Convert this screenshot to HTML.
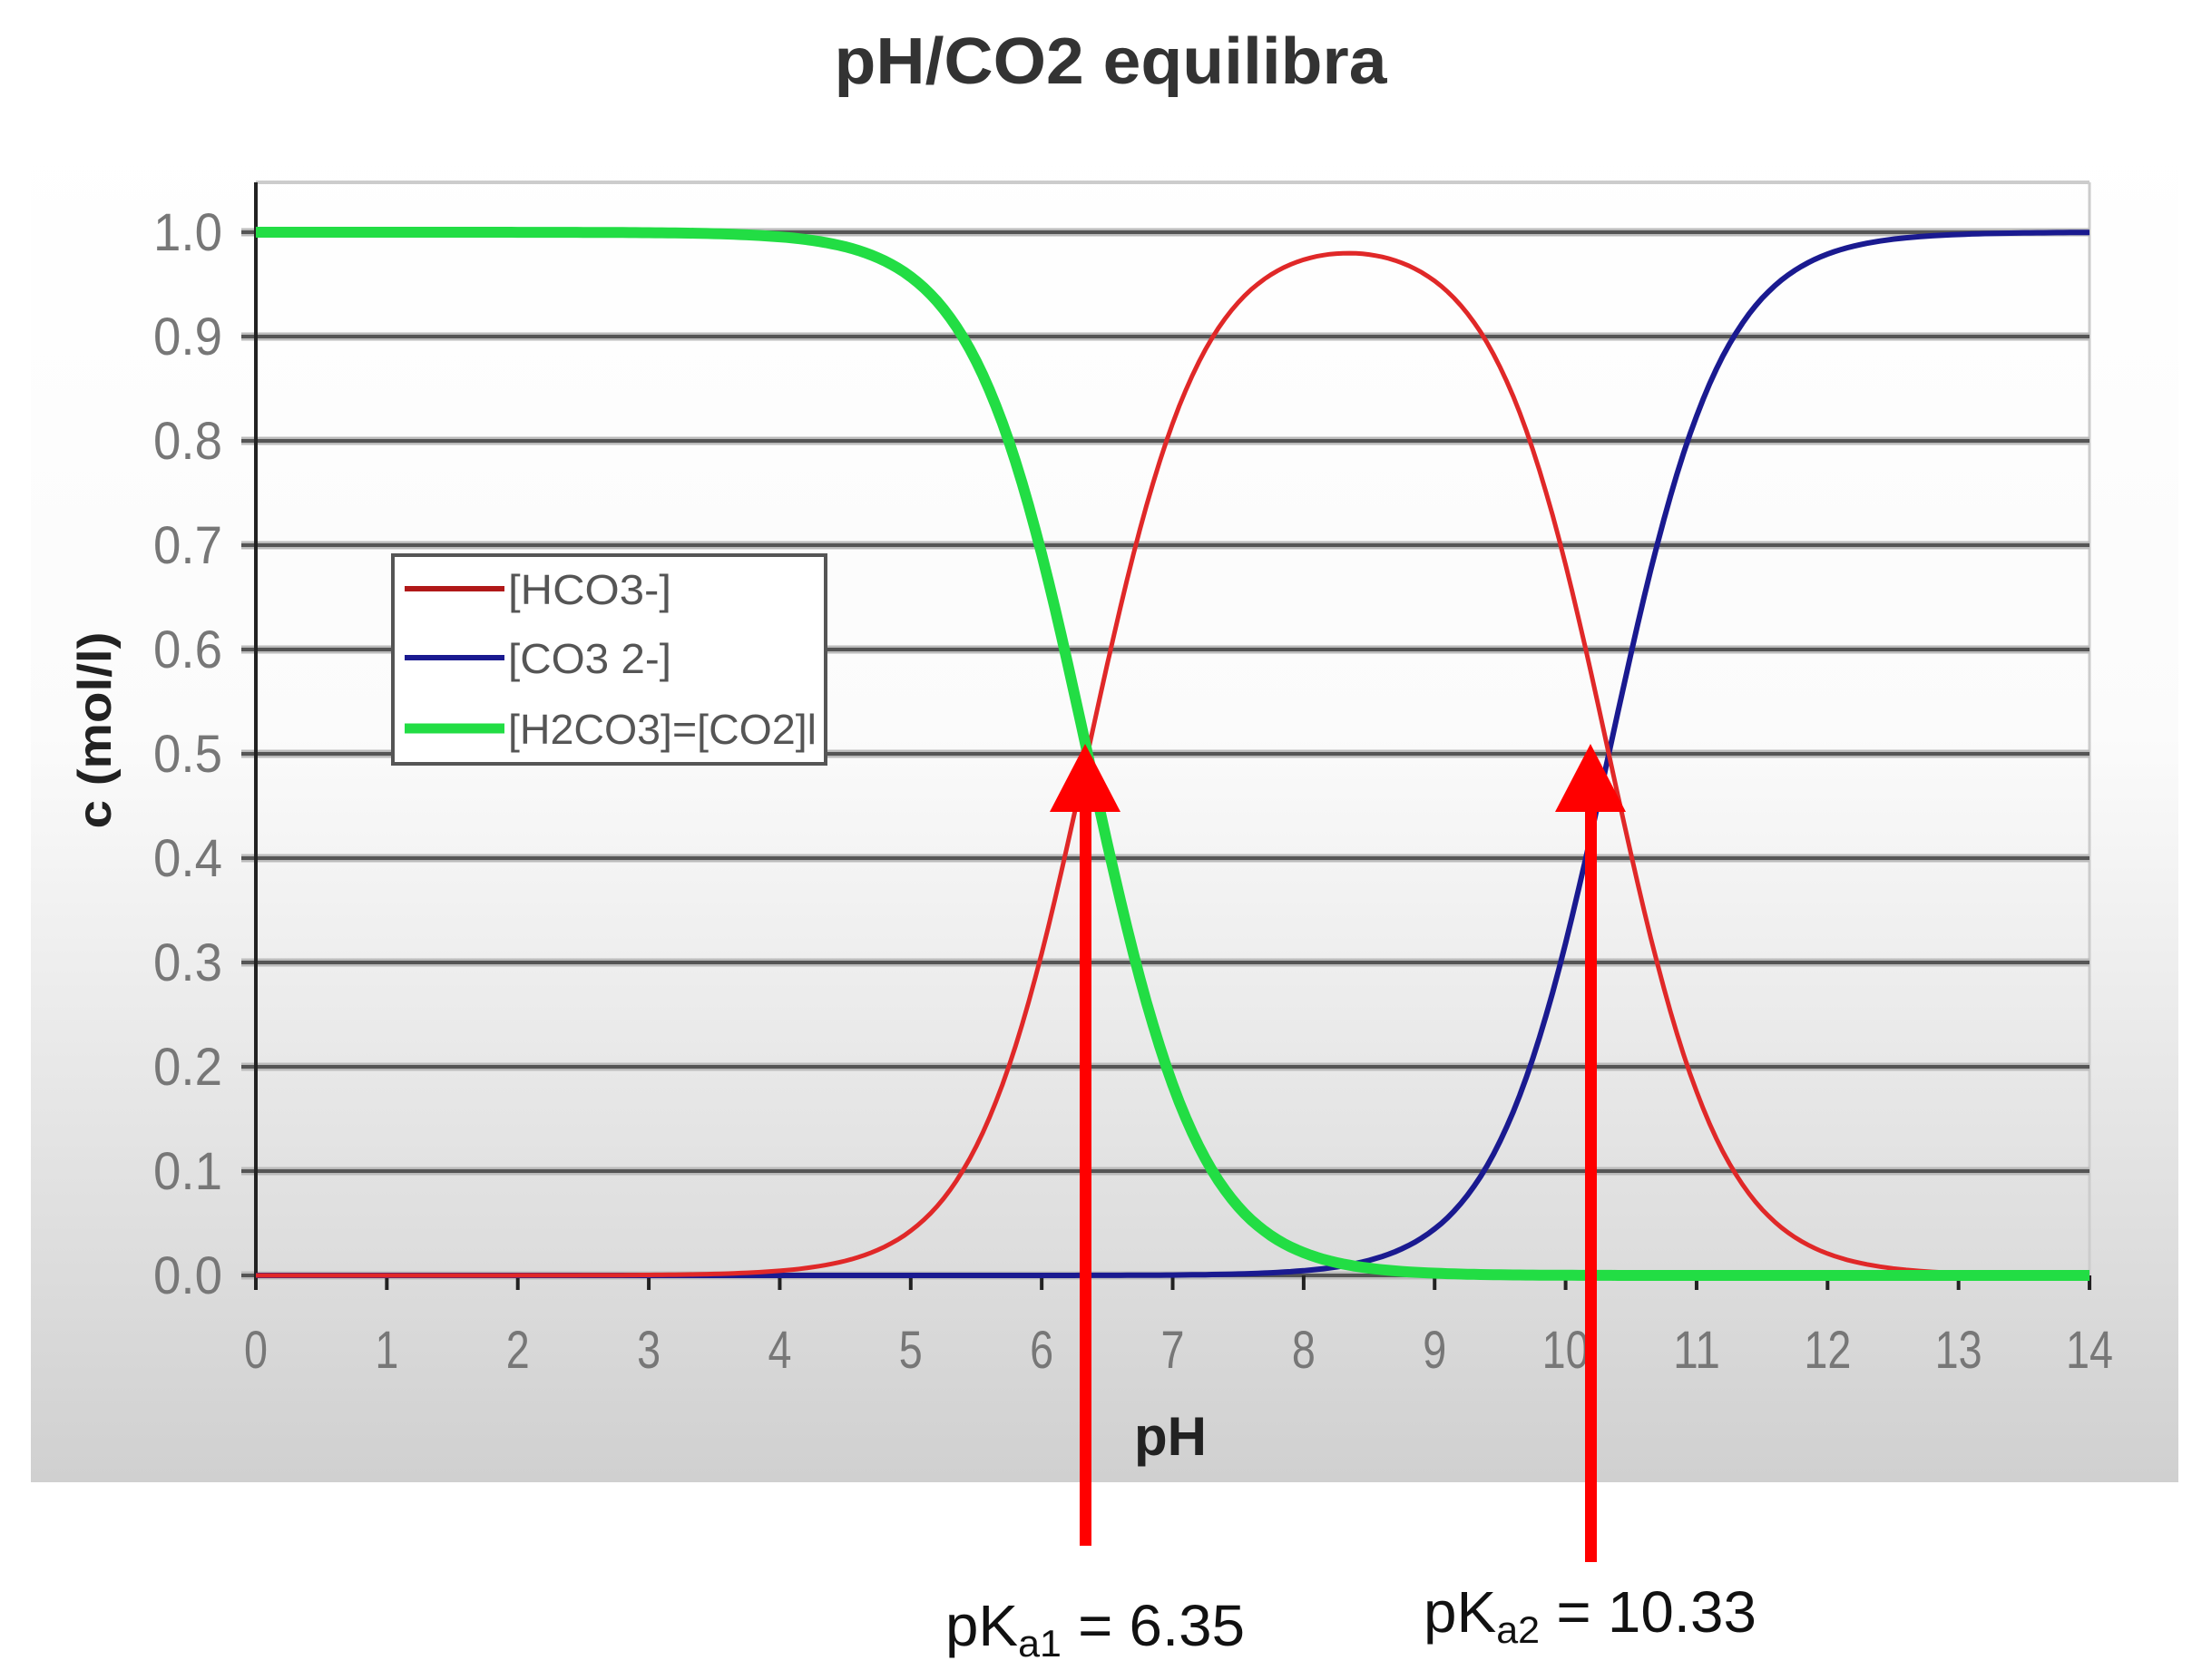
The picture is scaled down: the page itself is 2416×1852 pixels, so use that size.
<!DOCTYPE html>
<html><head><meta charset="utf-8"><style>
html,body{margin:0;padding:0;background:#fff}
svg{display:block}
</style></head><body>
<svg id="s" width="2416" height="1852" viewBox="0 0 2416 1852" xmlns="http://www.w3.org/2000/svg">
<defs>
<linearGradient id="bg" x1="0" y1="0" x2="0" y2="1">
<stop offset="0" stop-color="#ffffff"/>
<stop offset="0.45" stop-color="#fbfbfb"/>
<stop offset="1" stop-color="#d0d0d0"/>
</linearGradient>
</defs>
<rect x="34" y="140" width="2367" height="1494" fill="url(#bg)"/>
<text x="1224" y="92" font-family="Liberation Sans, sans-serif" font-size="72" font-weight="bold" text-anchor="middle" fill="#333" textLength="609" lengthAdjust="spacingAndGlyphs">pH/CO2 equilibra</text>
<line x1="282" y1="201" x2="2303" y2="201" stroke="#ccc" stroke-width="4"/>
<line x1="2303" y1="201" x2="2303" y2="1406" stroke="#ccc" stroke-width="3"/>
<g id="grid"></g>
<line x1="282" y1="201" x2="282" y2="1420" stroke="#222" stroke-width="4"/>
<g id="curves"></g>
<rect x="433" y="612" width="477" height="230" fill="#fff" stroke="#555" stroke-width="4"/>
<line x1="446" y1="649" x2="556" y2="649" stroke="#b01818" stroke-width="6"/>
<line x1="446" y1="725" x2="556" y2="725" stroke="#1a1a90" stroke-width="6"/>
<line x1="446" y1="803" x2="556" y2="803" stroke="#22dd44" stroke-width="11"/>
<g font-family="Liberation Sans, sans-serif" font-size="46" fill="#555">
<text x="560" y="666" textLength="180" lengthAdjust="spacingAndGlyphs">[HCO3-]</text>
<text x="560" y="742" textLength="180" lengthAdjust="spacingAndGlyphs">[CO3 2-]</text>
<text x="560" y="820" textLength="340" lengthAdjust="spacingAndGlyphs">[H2CO3]=[CO2]l</text>
</g>
<text transform="translate(122,805) rotate(-90)" font-family="Liberation Sans, sans-serif" font-size="52" font-weight="bold" text-anchor="middle" fill="#222" textLength="217" lengthAdjust="spacingAndGlyphs">c (mol/l)</text>
<text x="1290" y="1604" font-family="Liberation Sans, sans-serif" font-size="60" font-weight="bold" text-anchor="middle" fill="#222">pH</text>
<g id="labels" font-family="Liberation Sans, sans-serif" font-size="58" fill="#777"></g>
<g fill="#ff0000" stroke="none">
<rect x="1190" y="880" width="13" height="824"/>
<polygon points="1196,820 1157,895 1235,895"/>
<rect x="1747" y="880" width="13" height="842"/>
<polygon points="1753,820 1714,895 1792,895"/>
</g>
<g font-family="Liberation Sans, sans-serif" fill="#111" font-size="64">
<text x="1042" y="1814" textLength="330" lengthAdjust="spacingAndGlyphs">pK<tspan font-size="42" dy="12">a1</tspan><tspan dy="-12"> = 6.35</tspan></text>
<text x="1569" y="1799" textLength="367" lengthAdjust="spacingAndGlyphs">pK<tspan font-size="42" dy="12">a2</tspan><tspan dy="-12"> = 10.33</tspan></text>
</g>
</svg>
<script>
var NS="http://www.w3.org/2000/svg";
function X(p){return 282+p*144.36;}
function Y(c){return 1406-c*1150;}
function el(t,a,p){var e=document.createElementNS(NS,t);for(var k in a)e.setAttribute(k,a[k]);p.appendChild(e);return e;}
var g=document.getElementById('grid'),lb=document.getElementById('labels');
for(var i=0;i<=10;i++){var y=Y(i/10);
 el('line',{x1:266,y1:y,x2:2303,y2:y,stroke:'#bbb','stroke-width':9},g);
 el('line',{x1:266,y1:y,x2:2303,y2:y,stroke:'#555','stroke-width':4},g);
 var t=el('text',{x:245,y:y+20,'text-anchor':'end',textLength:76,lengthAdjust:'spacingAndGlyphs'},lb);t.textContent=(i/10).toFixed(1);}
for(var p=0;p<=14;p++){var x=X(p);
 el('line',{x1:x,y1:1406,x2:x,y2:1422,stroke:'#222','stroke-width':4},g);
 var a={x:x,y:1508,'text-anchor':'middle'};
 a.textLength=p>=10?52:26;a.lengthAdjust='spacingAndGlyphs';
 var t=el('text',a,lb);t.textContent=p;}
var c=document.getElementById('curves');
var d=[[],[],[]];
for(var p=0;p<=14.0001;p+=0.05){var h=Math.pow(10,-p),k1=Math.pow(10,-6.35),k2=Math.pow(10,-10.33);
 var D=h*h+h*k1+k1*k2;var a0=h*h/D,a1=h*k1/D,a2=k1*k2/D;
 d[0].push(X(p).toFixed(1)+','+Y(a0).toFixed(1));d[1].push(X(p).toFixed(1)+','+Y(a1).toFixed(1));d[2].push(X(p).toFixed(1)+','+Y(a2).toFixed(1));}
el('polyline',{points:d[2].join(' '),fill:'none',stroke:'#1a1a90','stroke-width':6},c);
el('polyline',{points:d[1].join(' '),fill:'none',stroke:'#e02828','stroke-width':5},c);
el('polyline',{points:d[0].join(' '),fill:'none',stroke:'#22dd44','stroke-width':12},c);
</script>
</body></html>
